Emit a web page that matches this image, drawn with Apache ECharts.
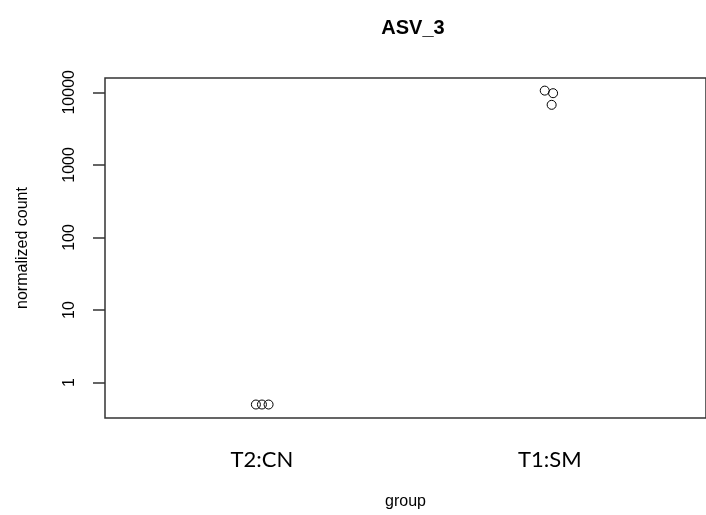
<!DOCTYPE html>
<html>
<head>
<meta charset="utf-8">
<script src="https://cdn.jsdelivr.net/npm/echarts@6/dist/echarts.min.js"></script>
<style>html,body{margin:0;padding:0;background:#fff}#c{width:706px;height:515px}</style>
</head>
<body>
<div id="c"></div>
<script>
// ---- data ----
var categories = ['T2:CN', 'T1:SM'];
var groupIndex = [1, 1, 1, 2, 2, 2];
var jitter = [-0.021, 0.0, 0.023, -0.018, 0.011, 0.006];
var counts = [0.5, 0.5, 0.5, 10550, 9720, 6720];
var yTicks = [1, 10, 100, 1000, 10000];
var xTicks = [1, 2];
var titleText = 'ASV_3';

var points = groupIndex.map(function (g, i) { return [g + jitter[i], counts[i]]; });

var chart = echarts.init(document.getElementById('c'), null, {renderer: 'canvas'});
chart.setOption({
  animation: false,
  backgroundColor: '#fff',
  title: {
    text: titleText, left: 408, top: 13, textAlign: 'center',
    textStyle: {fontFamily: 'Liberation Sans', fontWeight: 'bold', fontSize: 20, color: '#000'}
  },
  grid: {left: 105, top: 78, right: 0, bottom: 95.5, show: true, borderColor: '#333', borderWidth: 1.5, backgroundColor: 'transparent'},
  xAxis: {
    type: 'value', min: 0.455, max: 2.542,
    name: 'group', nameLocation: 'middle', nameGap: 76,
    nameTextStyle: {fontFamily: 'Liberation Sans', fontSize: 16, color: '#000'},
    axisLine: {show: false}, axisTick: {show: false}, splitLine: {show: false},
    axisLabel: {
      customValues: xTicks, margin: 31,
      fontFamily: 'Lato', fontSize: 22, color: '#000',
      formatter: function (v) { return categories[Math.round(v) - 1] || ''; }
    }
  },
  yAxis: {
    type: 'log', logBase: 10, min: 0.326, max: 15740,
    name: 'normalized count', nameLocation: 'middle', nameRotate: 90, nameGap: 74,
    nameTextStyle: {fontFamily: 'Liberation Sans', fontSize: 16, color: '#000'},
    axisLine: {show: false}, splitLine: {show: false},
    axisTick: {show: true, customValues: yTicks, length: 12, lineStyle: {color: '#333', width: 1.5}},
    axisLabel: {
      customValues: yTicks, rotate: 90, margin: 27,
      fontFamily: 'Liberation Sans', fontSize: 16, color: '#000',
      formatter: function (v) { return String(Math.round(v)); }
    }
  },
  series: [{
    type: 'scatter', data: points, symbol: 'circle', symbolSize: 9,
    itemStyle: {color: 'rgba(255,255,255,0)', borderColor: '#000', borderWidth: 1, opacity: 1},
    emphasis: {disabled: true},
    z: 10
  }]
});
</script>
</body>
</html>
